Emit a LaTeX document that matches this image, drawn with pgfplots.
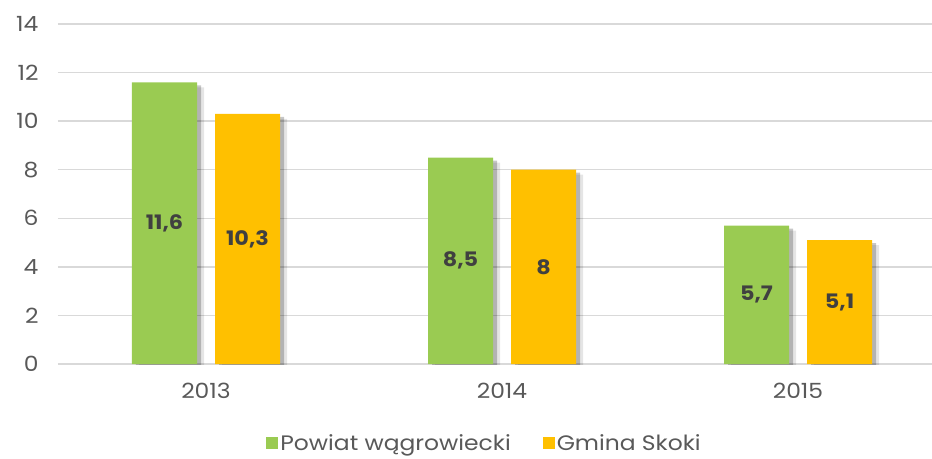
\documentclass[border=0pt]{standalone}
\usepackage{pgfplots}
\pgfplotsset{compat=1.18}
\usepackage{fontspec}
\setmainfont{Poppins}[FakeStretch=1.12]
\definecolor{zielony}{HTML}{9ACB52}
\definecolor{zolty}{HTML}{FFC000}
\definecolor{txt}{HTML}{595959}
\definecolor{lbl}{HTML}{404040}
\definecolor{siatka}{HTML}{D9D9D9}

\begin{document}
\begin{tikzpicture}[font=\fontsize{21}{24}\selectfont]
\path[use as bounding box] (-58bp,-95bp) rectangle (874bp,364bp);
\begin{axis}[x=296bp,y=24.2857bp,
  xmin=-0.5,xmax=2.4527,ymin=0,ymax=14,
  axis line style={draw=none},tick style={draw=none},major tick length=0pt,
  ymajorgrids,grid style={siatka,line width=1.5bp},
  xtick={0,1,2},xticklabels={2013,2014,2015},ytick={0,2,...,14},
  tick label style={text=txt},
  yticklabel style={xshift=-16bp},xticklabel style={yshift=-16bp},
  /pgf/number format/assume math mode=true,
  /pgf/number format/use comma,
  legend style={at={(0.488,-0.232)},anchor=center,draw=none,legend columns=2,
    text=txt,/tikz/every even column/.append style={column sep=30bp}},
  legend image code/.code={\fill[#1] (-4bp,-6bp) rectangle (8bp,6bp);},
  visualization depends on={y \as \rawy},
  nodes near coords style={font=\fontsize{20}{24}\selectfont\bfseries,text=lbl,anchor=center,yshift={-\rawy*12.1429bp}}]
% cienie
\addplot[ybar,bar width=65bp,bar shift=-41.5bp,fill=black,opacity=0.10,draw=none,forget plot,xshift=7bp,yshift=-5bp] coordinates {(0,11.6) (1,8.5) (2,5.7)};
\addplot[ybar,bar width=65bp,bar shift=41.5bp,fill=black,opacity=0.10,draw=none,forget plot,xshift=7bp,yshift=-5bp] coordinates {(0,10.3) (1,8) (2,5.1)};
\addplot[ybar,bar width=65bp,bar shift=-41.5bp,fill=black,opacity=0.22,draw=none,forget plot,xshift=4bp,yshift=-3bp] coordinates {(0,11.6) (1,8.5) (2,5.7)};
\addplot[ybar,bar width=65bp,bar shift=41.5bp,fill=black,opacity=0.22,draw=none,forget plot,xshift=4bp,yshift=-3bp] coordinates {(0,10.3) (1,8) (2,5.1)};
% slupki
\addplot[ybar,bar width=65bp,bar shift=-41.5bp,fill=zielony,draw=none,nodes near coords,
  every node near coord/.append style={xshift=-41.5bp}] coordinates {(0,11.6) (1,8.5) (2,5.7)};
\addlegendentry{Powiat wągrowiecki}
\addplot[ybar,bar width=65bp,bar shift=41.5bp,fill=zolty,draw=none,nodes near coords,
  every node near coord/.append style={xshift=41.5bp}] coordinates {(0,10.3) (1,8) (2,5.1)};
\addlegendentry{Gmina Skoki}
\end{axis}
\end{tikzpicture}
\end{document}
